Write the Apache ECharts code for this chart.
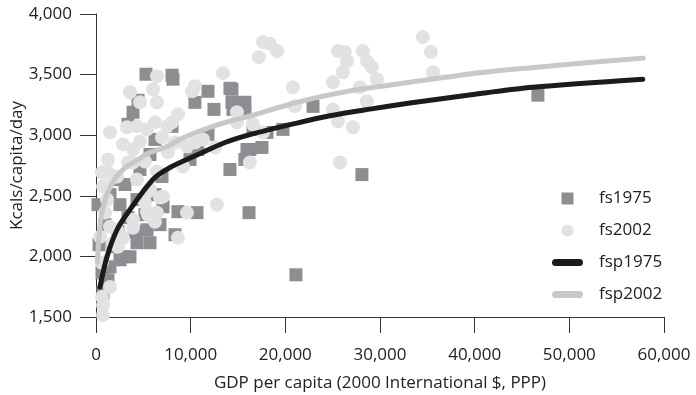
<!DOCTYPE html>
<html>
<head>
<meta charset="utf-8">
<script src="https://cdn.jsdelivr.net/npm/echarts@6/dist/echarts.min.js"></script>
<style>html,body{margin:0;padding:0;background:#fff;}#c{width:696px;height:395px;}</style>
</head>
<body>
<div id="c"></div>
<script>
var xTicks = [0, 10000, 20000, 30000, 40000, 50000, 60000];
var yTicks = [1500, 2000, 2500, 3000, 3500, 4000];

var fs1975 = [
[5280,3503],[8030,3495],[8130,3462],[11830,3362],[14150,3387],[10450,3271],[12460,3213],[14470,3213],[15730,3271],[15730,3189],
[4440,3288],[3910,3189],[3380,3090],[8030,3073],[6230,2965],[11830,3007],[10770,2882],[9930,2800],[14150,2717],[15950,2882],
[15730,2800],[6970,2659],[5700,2841],[14360,3379],[14360,3271],[15520,3271],[16580,3048],[18060,3023],[19750,3048],[16260,2882],
[17530,2899],[22920,3238],[28090,2675],[16160,2361],[21120,1848],[46680,3330],
[8660,2369],[7080,2410],[10670,2361],[8340,2179],[5390,2220],[4330,2469],
[2110,2634],[1480,2510],[3060,2593],[4650,2717],[2530,2427],[3380,2320],[950,2262],[1800,2080],[2850,1997],[3590,1997],
[1480,1914],[1270,1806],[740,1699],[630,1864],[2530,1972],[4330,2113],[5700,2113],[6760,2262],[5170,2344],[6230,2510],
[2320,2204],[210,2427],[320,2096],[4120,2204]
];

var fs2002 = [
[17640,3768],[18380,3752],[19120,3694],[17210,3644],[20800,3396],[25030,3437],[25560,3694],[26300,3686],[26510,3611],[26080,3520],
[28200,3694],[28620,3611],[29150,3561],[29670,3462],[27880,3396],[28620,3280],[25030,3213],[25560,3114],[27140,3065],[25770,2775],
[21010,3238],[14890,3189],[14890,3106],[16580,3090],[17640,3023],[16260,2775],[34530,3810],[35380,3686],[35590,3520],
[6440,3487],[13410,3512],[3590,3354],[6020,3379],[10140,3362],[10450,3404],[4650,3271],[6440,3271],[8660,3172],[8030,3106],
[1480,3023],[3270,3065],[4330,3073],[5390,3048],[6230,3106],[7500,3073],[4650,2949],[6970,2982],[2850,2924],[3910,2882],
[8340,2940],[9610,2907],[10450,2940],[7600,2858],[1270,2800],[1270,2692],[2220,2659],[3910,2775],[5170,2783],[6440,2700],
[9190,2742],[7080,2493],[5490,2535],[12570,2899],[11300,2965],
[740,2576],[1160,2469],[950,2361],[420,2162],[630,1947],[630,1666],[740,1600],[740,1517],[1480,1748],[2320,2080],
[3910,2237],[3910,2303],[5490,2344],[6440,2361],[6230,2286],[6760,2485],[9610,2361],[12780,2427],[8660,2154],[2850,2154],
[1800,2113],[5170,2444],[1480,2245],[3380,2775],[630,2692],[1800,2651],[4330,2634],[5700,2551],[2220,2220],[5390,2369]
];

var fsp1975 = [[420,1748],[1160,1997],[2220,2220],[3590,2386],[6020,2634],[7820,2733],[10770,2840],[13620,2940],[16260,3005],
[21230,3100],[24710,3160],[28940,3215],[33160,3265],[40230,3340],[46150,3395],[57760,3462]];

var fsp2002 = [[150,1950],[300,2150],[600,2350],[1000,2480],[1500,2570],[2200,2660],[3200,2740],[4300,2790],[5500,2850],
[7300,2900],[9000,2970],[10800,3030],[13000,3090],[16300,3160],[21200,3270],[26500,3360],[33000,3435],[41000,3520],[50000,3585],[57800,3636]];

var FONT = '"Open Sans", "Noto Sans", sans-serif';
var fmt = function (v) { return Number(v).toLocaleString('en-US'); };
var SQUARE = 'path://M0,0L10,0L10,10L0,10Z';
var CAPSULE = 'path://M3.5,0L27.5,0A3.5,3.5,0,0,1,27.5,7L3.5,7A3.5,3.5,0,0,1,3.5,0Z';

var chart = echarts.init(document.getElementById('c'), null, {renderer: 'canvas'});
chart.setOption({
  animation: false,
  backgroundColor: '#fff',
  grid: {left: 96, right: 32, top: 14, bottom: 78, containLabel: false, outerBoundsMode: 'none'},
  xAxis: {
    type: 'value', min: xTicks[0], max: xTicks[xTicks.length - 1], interval: 10000,
    name: 'GDP per capita (2000 International $, PPP)', nameLocation: 'middle', nameGap: 58, nameMoveOverlap: false,
    nameTextStyle: {fontFamily: FONT, fontSize: 17, color: '#222', verticalAlign: 'top'},
    axisLine: {show: true, lineStyle: {color: '#333', width: 1}},
    axisTick: {show: true, inside: false, length: 16, lineStyle: {color: '#333'}},
    axisLabel: {fontFamily: FONT, fontSize: 17, color: '#222', margin: 30, formatter: fmt},
    splitLine: {show: false}
  },
  yAxis: {
    type: 'value', min: yTicks[0], max: yTicks[yTicks.length - 1], interval: 500,
    name: 'Kcals/capita/day', nameLocation: 'middle', nameGap: 70, nameRotate: 90, nameMoveOverlap: false,
    nameTextStyle: {fontFamily: FONT, fontSize: 17, color: '#222'},
    axisLine: {show: true, lineStyle: {color: '#333', width: 1}},
    axisTick: {show: true, inside: false, length: 16, lineStyle: {color: '#333'}},
    axisLabel: {fontFamily: FONT, fontSize: 17, color: '#222', margin: 24, formatter: fmt},
    splitLine: {show: false}
  },
  legend: {
    orient: 'vertical', left: 552, top: 190, padding: 0, itemWidth: 31, itemHeight: 12, itemGap: 15,
    symbolKeepAspect: true,
    textStyle: {fontFamily: FONT, fontSize: 17, color: '#222', padding: [0, 0, 0, 11]},
    data: [
      {name: 'fs1975', icon: SQUARE},
      {name: 'fs2002', icon: 'circle'},
      {name: 'fsp1975', icon: CAPSULE},
      {name: 'fsp2002', icon: CAPSULE}
    ]
  },
  series: [
    {name: 'fs1975', type: 'scatter', data: fs1975, symbol: 'rect', symbolSize: 13, z: 2,
     itemStyle: {color: '#8e8e92', opacity: 1}},
    {name: 'fs2002', type: 'scatter', data: fs2002, symbol: 'circle', symbolSize: 14, z: 3,
     itemStyle: {color: '#e2e2e4', opacity: 1}},
    {name: 'fsp1975', type: 'line', data: fsp1975, smooth: 0.3, symbol: 'none', showSymbol: false, z: 4,
     itemStyle: {color: '#1c1a1a'}, lineStyle: {color: '#1c1a1a', width: 5, cap: 'round'}},
    {name: 'fsp2002', type: 'line', data: fsp2002, smooth: 0.3, symbol: 'none', showSymbol: false, z: 4,
     itemStyle: {color: '#c8c8ca'}, lineStyle: {color: '#c8c8ca', width: 5, cap: 'round'}}
  ]
});
</script>
</body>
</html>
